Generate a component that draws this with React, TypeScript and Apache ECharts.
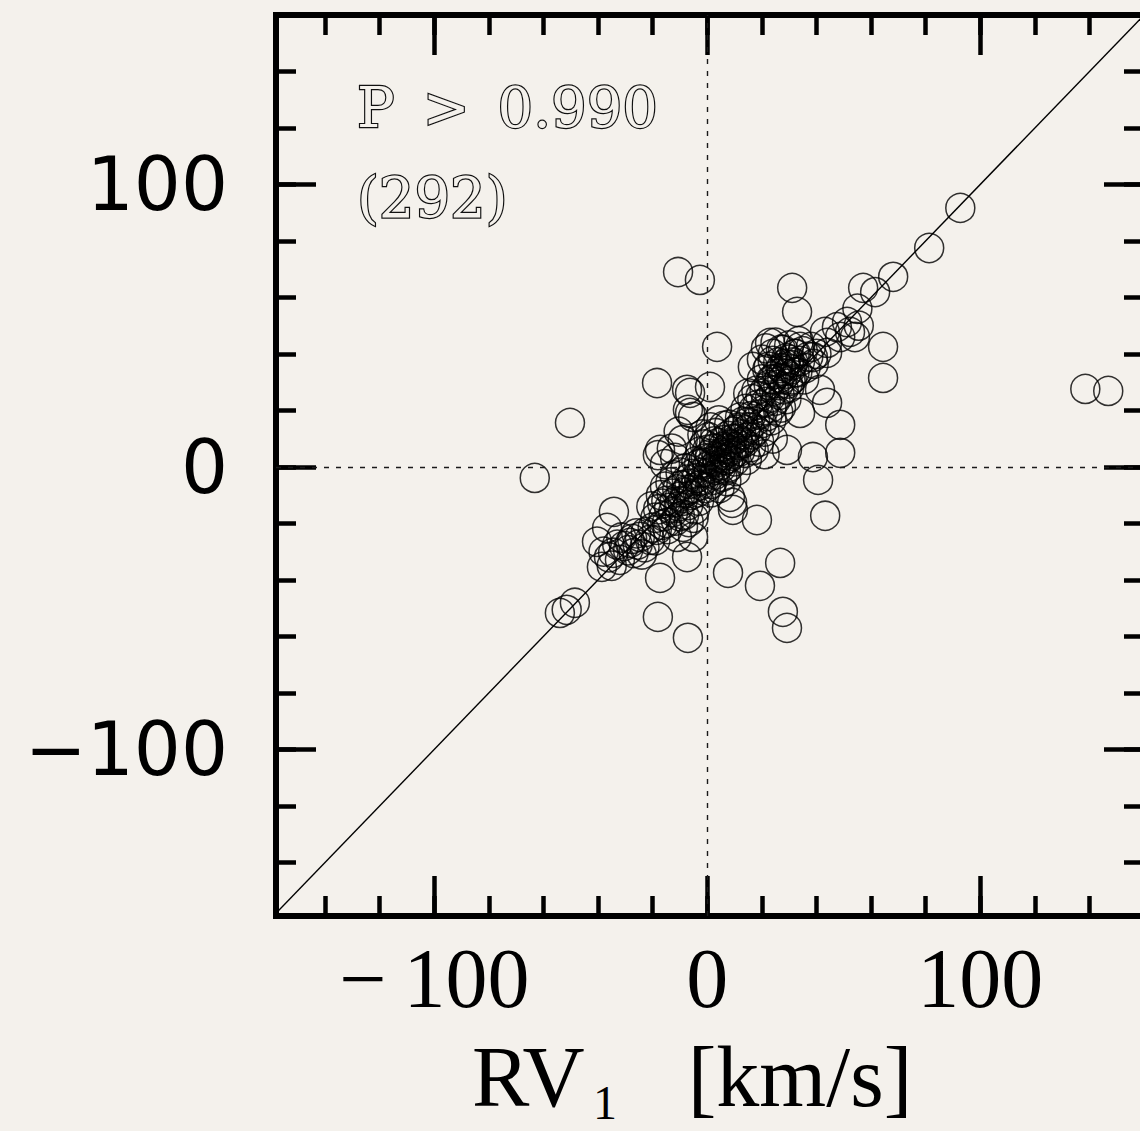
import React, { useEffect, useRef } from "react";
import * as echarts from "echarts";

// ---- axes ----
const X_RANGE = [-158, 160];
const Y_RANGE = [-159, 160];
const MAJOR_TICKS = [-100, 0, 100];
const MINOR_TICKS = [-140, -120, -100, -80, -60, -40, -20, 0, 20, 40, 60, 80, 100, 120, 140];
const AXIS_LABELS = [-100, 0, 100];
const IDENTITY_ENDS = [-160, 160];
const ZERO_LINE = 0;
const ANNOTATION = ["P > 0.990", "(292)"];
const X_TITLE = ["RV", "1", "[km/s]"];

// ---- data: [RV1, RV2] in km/s ----
const outerPoints = [
  [-10.7, 69.0], [-2.7, 66.2], [3.6, 42.5], [-18.4, 29.7], [-50.3, 15.6], [-63.2, -3.9],
  [92.7, 91.7], [81.3, 77.5], [68.1, 67.3], [57.1, 63.4], [61.5, 61.9],
  [31.1, 63.4], [32.9, 54.9], [64.4, 42.5], [64.4, 31.5], [138.5, 27.6], [146.9, 26.9],
  [48.7, 14.9], [43.9, 22.7], [40.6, -4.6], [43.2, -17.3], [38.7, 3.5], [48.7, 5.0],
  [18.2, -18.8], [9.1, -12.7], [29.2, 6.0], [26.7, -34.0], [7.6, -37.5], [19.3, -42.1],
  [27.7, -51.3], [29.2, -57.0], [-7.1, -60.5], [-7.4, -31.9], [-18.1, -53.1], [-17.3, -39.3],
  [-48.5, -48.1], [-54.0, -51.7], [-51.5, -50.6], [-38.6, -35.4], [-40.4, -26.5], [-36.7, -21.6],
  [-34.2, -15.9], [-5.2, -24.8], [34.0, 19.1], [-6.3, 26.2], [1.0, 28.3], [-6.3, 19.1],
  [-18.1, 4.2], [-11.8, 3.2], [9.4, -15.2], [41.3, 27.3], [16.7, 35.4],
  [-7.4, 27.3], [-5.2, 17.7], [-7.1, 20.2], [-17.3, 6.0], [24.0, 10.0], [21.0, 4.5],
];

const upperRightPoints = [
  [43.1, 47.8], [51.2, 51.3], [52.3, 47.8], [48.7, 46.0], [54.1, 46.0], [43.9, 40.4], [43.9, 43.9],
  [38.7, 38.9], [34.0, 42.5], [27.8, 41.4], [23.0, 43.9], [55.5, 50.0], [47.5, 49.5], [55.0, 56.0],
];

const lowerClumpPoints = [
  [-34.5, -30.4], [-32.0, -32.9], [-24.7, -24.8], [-28.3, -26.9], [-21.0, -25.8], [-18.5, -22.3], [-11.1, -24.8],
  [-30.5, -28.0], [-27.0, -30.5], [-25.5, -27.5], [-29.0, -29.5], [-33.0, -27.5], [-36.0, -32.0], [-26.0, -23.5],
  [-23.0, -28.5], [-31.5, -25.0], [-20.0, -21.5], [-22.5, -23.0], [-27.5, -25.5], [-35.0, -35.0], [-38.0, -30.0],
  [-24.0, -31.0], [-19.0, -26.0], [-16.5, -20.5], [-14.8, -19.8], [-8.9, -21.2],
];

const lowerBandPoints = [
  [-18.0, -15.0], [-16.0, -17.5], [-15.0, -12.0], [-14.0, -14.5], [-13.0, -9.5], [-12.5, -16.0], [-12.0, -12.5], [-11.0, -8.0],
  [-10.5, -14.0], [-10.0, -10.5], [-9.5, -6.5], [-9.0, -12.0], [-8.5, -17.0], [-8.0, -9.0], [-7.5, -4.5], [-7.4, -8.1],
  [-7.0, -13.5], [-6.5, -6.0], [-6.0, -10.0], [-5.5, -2.5], [-5.0, -7.5], [-4.5, -15.0], [-4.0, -4.0], [-3.5, -9.0],
  [-17.0, -10.0], [-19.0, -18.0], [-13.5, -5.5], [-11.5, -19.0], [-15.5, -7.0], [-9.8, -2.0], [-16.5, -13.0], [-6.8, -19.5],
  [-3.0, -12.0], [-2.5, -6.5], [-12.0, -3.0], [-20.5, -14.0], [-14.5, -22.0], [-10.0, -17.5], [-8.0, -0.5], [-5.0, -18.0],
  [-13.0, 6.5], [-9.0, 9.5], [-15.5, 1.0], [-10.5, 12.5],
];

const centralPoints = [
  [-2.0, -2.0], [-1.5, 1.5], [-1.0, -4.5], [-0.5, 3.0], [0.0, 0.0], [0.5, -2.0], [1.0, 4.5], [1.5, -6.0], [2.0, 2.0], [2.1, -4.6],
  [2.5, 6.5], [3.0, -1.0], [3.5, 3.5], [4.0, 8.5], [4.5, 0.5], [5.0, 5.0], [5.5, -3.5], [6.0, 9.5], [6.5, 2.5], [7.0, 6.5],
  [7.5, 11.0], [8.0, 0.0], [8.3, -10.6], [8.5, 8.0], [9.0, 4.0], [9.5, 12.5], [10.0, 7.0], [10.5, -1.5], [11.0, 10.0], [11.5, 14.0],
  [12.0, 5.5], [12.5, 11.5], [13.0, 16.0], [13.5, 8.5], [14.0, 13.0], [14.5, 2.5], [15.0, 10.5], [-2.5, 5.5], [-1.0, 8.0], [0.5, 10.5],
  [1.5, -9.0], [3.0, 12.0], [4.5, -7.5], [6.0, 14.5], [7.0, -5.0], [-3.0, 1.0], [0.0, 6.0], [2.5, 9.0], [5.0, -0.5], [8.0, 15.0],
  [10.0, 2.0], [12.0, 17.5], [-0.5, -7.5], [3.8, 1.8], [6.2, 4.2], [9.2, 9.8], [11.8, 7.8], [13.8, 5.0], [-1.8, 11.5], [1.2, 14.0],
  [4.2, 16.5], [16.0, 7.0], [2.8, -2.8], [5.8, 7.2], [8.8, 5.8], [-2.8, -5.0], [0.8, 2.8], [7.8, 3.0], [10.8, 13.2], [14.8, 15.8],
  [-4.0, 2.0], [1.8, -0.5], [4.8, 3.2], [6.8, -1.2], [9.8, 4.8], [12.8, 9.0],
];

const upperBandPoints = [
  [15.5, 14.0], [16.0, 18.0], [16.5, 11.5], [17.0, 20.5], [17.5, 16.0], [18.0, 13.0], [18.5, 22.0], [19.0, 18.5], [19.5, 25.0], [20.0, 15.5],
  [20.5, 20.0], [21.0, 27.0], [21.5, 23.0], [22.0, 18.0], [22.5, 29.0], [23.0, 24.5], [23.5, 21.0], [24.0, 31.0], [24.5, 27.0], [25.0, 23.5],
  [25.5, 33.0], [26.0, 29.0], [26.5, 25.5], [27.0, 35.0], [27.5, 31.0], [28.0, 27.5], [28.5, 36.5], [29.0, 33.0], [29.5, 29.5], [30.0, 38.0],
  [30.5, 34.5], [31.0, 31.0], [31.5, 37.0], [32.0, 33.5], [18.0, 27.0], [20.0, 31.0], [22.0, 34.5], [24.0, 37.5], [16.5, 24.0], [26.0, 19.5],
  [29.0, 24.0], [21.0, 12.5], [19.0, 9.0], [23.5, 16.5], [27.0, 21.0], [17.0, 6.0], [14.0, 20.5], [15.0, 26.0], [30.0, 28.0], [32.5, 40.0],
];

const upperClumpPoints = [
  [20.0, 38.0], [21.5, 42.0], [22.5, 35.5], [24.0, 40.0], [25.0, 44.0], [26.0, 37.0], [27.0, 41.5], [28.0, 34.0], [29.0, 38.5], [30.0, 43.0],
  [31.0, 36.0], [32.0, 40.0], [33.0, 33.5], [34.0, 37.5], [35.0, 41.0], [36.0, 35.0], [37.0, 39.0], [38.0, 42.5], [39.0, 36.5], [40.0, 40.0],
  [26.5, 31.5], [30.5, 30.5], [35.5, 31.0], [23.5, 31.0], [33.5, 44.5],
];

const allPoints = [
  ...outerPoints, ...upperRightPoints, ...lowerClumpPoints, ...lowerBandPoints,
  ...centralPoints, ...upperBandPoints, ...upperClumpPoints,
];

const INK = "#000000";
const BG = "#f4f1ec";

export default function App() {
  const ref = useRef<HTMLDivElement>(null);

  useEffect(() => {
    if (!ref.current) return;
    const chart = echarts.init(ref.current, null, { renderer: "svg" });

    const xFmt = (v: number) => (v < 0 ? "\u2212\u2009" + Math.abs(v) : String(v));
    const yFmt = (v: number) => (v < 0 ? "\u2212" + Math.abs(v) : String(v));

    const base = (range: number[]) => ({
      type: "value",
      min: range[0],
      max: range[1],
      splitLine: { show: false },
      axisLabel: { show: false },
      axisLine: { show: false, onZero: false },
      axisTick: { show: false },
    });
    const line = { show: true, onZero: false, lineStyle: { color: INK, width: 6, cap: "square" } };
    const ticks = (values: number[], len: number) => ({
      show: true,
      inside: true,
      length: len,
      customValues: values,
      lineStyle: { color: INK, width: 4.5 },
    });

    const annotStyle = {
      fontFamily: "DejaVu Serif",
      fontSize: 56,
      fill: BG,
      stroke: "#111111",
      lineWidth: 2.4,
      align: "left",
      verticalAlign: "middle",
      textAlign: "left",
      textVerticalAlign: "middle",
    };

    const option: any = {
      animation: false,
      backgroundColor: BG,
      grid: { left: 276, top: 15, width: 868, height: 901, containLabel: false, outerBoundsMode: "none" },
      xAxis: [
        {
          ...base(X_RANGE),
          position: "bottom",
          axisLine: line,
          axisTick: ticks(MINOR_TICKS, 20),
          axisLabel: {
            show: true,
            customValues: AXIS_LABELS,
            formatter: xFmt,
            fontFamily: "Liberation Serif",
            fontSize: 84,
            color: INK,
            margin: 20,
          },
        },
        { ...base(X_RANGE), position: "bottom", axisTick: ticks(MAJOR_TICKS, 40) },
        { ...base(X_RANGE), position: "top", axisLine: line, axisTick: ticks(MINOR_TICKS, 20) },
        { ...base(X_RANGE), position: "top", axisTick: ticks(MAJOR_TICKS, 40) },
      ],
      yAxis: [
        {
          ...base(Y_RANGE),
          position: "left",
          axisLine: line,
          axisTick: ticks(MINOR_TICKS, 20),
          axisLabel: {
            show: true,
            customValues: AXIS_LABELS,
            formatter: yFmt,
            fontFamily: "DejaVu Sans",
            fontSize: 74,
            color: INK,
            margin: 48,
          },
        },
        { ...base(Y_RANGE), position: "left", axisTick: ticks(MAJOR_TICKS, 40) },
        { ...base(Y_RANGE), position: "right", axisLine: line, axisTick: ticks(MINOR_TICKS, 20) },
        { ...base(Y_RANGE), position: "right", axisTick: ticks(MAJOR_TICKS, 40) },
      ],
      series: [
        {
          type: "line",
          xAxisIndex: 0,
          yAxisIndex: 0,
          data: [
            [IDENTITY_ENDS[0], IDENTITY_ENDS[0]],
            [IDENTITY_ENDS[1], IDENTITY_ENDS[1]],
          ],
          showSymbol: false,
          symbol: "none",
          clip: true,
          lineStyle: { color: INK, width: 1.4 },
          silent: true,
          z: 3,
        },
        {
          type: "scatter",
          xAxisIndex: 0,
          yAxisIndex: 0,
          data: allPoints,
          symbol: "circle",
          symbolSize: 29,
          itemStyle: { color: "rgba(0,0,0,0)", borderColor: INK, borderWidth: 1.5 },
          z: 4,
          markLine: {
            silent: true,
            symbol: ["none", "none"],
            label: { show: false },
            lineStyle: { color: "#1a1a1a", width: 1.4, type: [5, 7] },
            data: [{ xAxis: ZERO_LINE }, { yAxis: ZERO_LINE }],
          },
        },
      ],
      graphic: [
        {
          type: "text",
          x: 357,
          y: 107,
          silent: true,
          style: { ...annotStyle, text: ANNOTATION[0].replace(/ /g, "\u2002") },
        },
        {
          type: "text",
          x: 357,
          y: 197,
          silent: true,
          style: { ...annotStyle, text: ANNOTATION[1] },
        },
        {
          type: "text",
          x: 472,
          y: 1077,
          silent: true,
          style: {
            text: X_TITLE[0],
            fontFamily: "Liberation Serif",
            fontSize: 86,
            fill: INK,
            align: "left",
            verticalAlign: "middle",
            textAlign: "left",
            textVerticalAlign: "middle",
          },
        },
        {
          type: "text",
          x: 593,
          y: 1102,
          silent: true,
          style: {
            text: X_TITLE[1],
            fontFamily: "Liberation Serif",
            fontSize: 48,
            fill: INK,
            align: "left",
            verticalAlign: "middle",
            textAlign: "left",
            textVerticalAlign: "middle",
          },
        },
        {
          type: "text",
          x: 800,
          y: 1077,
          silent: true,
          style: {
            text: X_TITLE[2],
            fontFamily: "Liberation Serif",
            fontSize: 86,
            fill: INK,
            align: "center",
            verticalAlign: "middle",
            textAlign: "center",
            textVerticalAlign: "middle",
          },
        },
      ],
    };

    chart.setOption(option);
    return () => chart.dispose();
  }, []);

  return (
    <div
      ref={ref}
      style={{ position: "absolute", left: 0, top: 0, width: 1140, height: 1131, background: BG }}
    />
  );
}
